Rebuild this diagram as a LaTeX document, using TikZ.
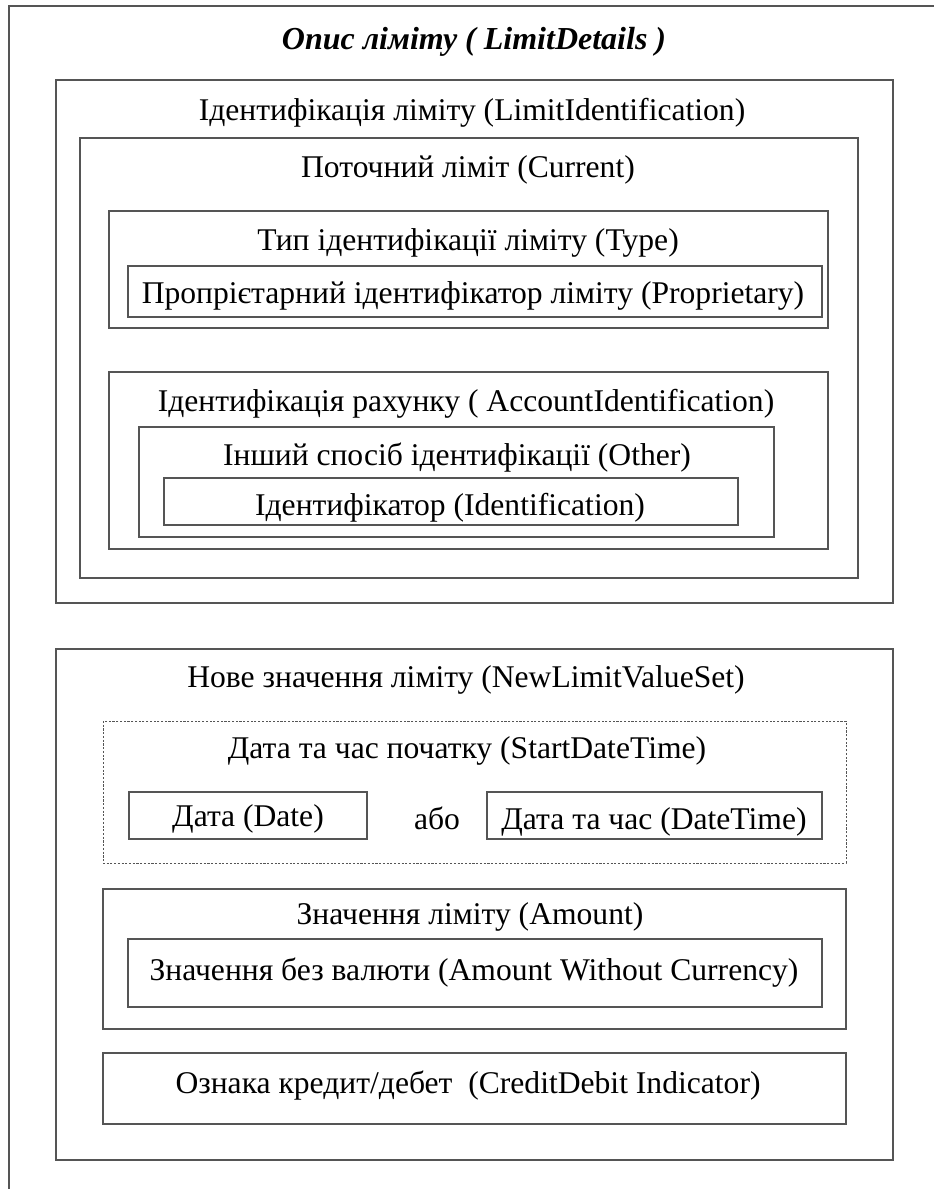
\documentclass[tikz,border=0pt]{standalone}
\usepackage{fontspec}
\setmainfont{Liberation Serif}
\definecolor{framegray}{RGB}{85,85,85}
\tikzset{
    box/.style={draw=framegray, line width=0.9pt},
    optbox/.style={draw=framegray, line width=0.7pt, dash pattern=on 1.6pt off 1.2pt},
    lbl/.style={font=\fontsize{23.7}{27}\selectfont, inner sep=0pt},
}

\begin{document}
\begin{tikzpicture}[x=0.75pt,y=-0.75pt]
    \useasboundingbox (0,0) rectangle (934,1189);
    \begin{scope}
        \clip (0,0) rectangle (934,1189);
        \draw[box] (9,1200) |- (945,6);
    \end{scope}
    \node[lbl, font=\fontsize{24}{28}\selectfont\bfseries\itshape] (title) at (474,42) {Опис ліміту ( LimitDetails )};

    % limit identification
    \draw[box] (56,80) rectangle (893,603);
    \node[lbl] (limid) at (472,113) {Ідентифікація ліміту (LimitIdentification)};
    \draw[box] (80,138) rectangle (858,578);
    \node[lbl] (current) at (468,170) {Поточний ліміт (Current)};
    \draw[box] (109,211) rectangle (828,328);
    \node[lbl] (type) at (468,243) {Тип ідентифікації ліміту (Type)};
    \draw[box] (128,266) rectangle (822,317);
    \node[lbl] (prop) at (473,296) {Пропрієтарний ідентифікатор ліміту (Proprietary)};
    \draw[box] (109,372) rectangle (828,549);
    \node[lbl] (acctid) at (466,404) {Ідентифікація рахунку ( AccountIdentification)};
    \draw[box] (139,427) rectangle (774,537);
    \node[lbl] (other) at (457,458) {Інший спосіб ідентифікації (Other)};
    \draw[box] (164,478) rectangle (738,525);
    \node[lbl] (ident) at (450,508) {Ідентифікатор (Identification)};

    % new limit value set
    \draw[box] (56,649) rectangle (893,1160);
    \node[lbl] (newval) at (466,680) {Нове значення ліміту (NewLimitValueSet)};
    \draw[optbox] (103,721) rectangle (846,863);
    \node[lbl] (start) at (467,751) {Дата та час початку (StartDateTime)};
    \draw[box] (129,792) rectangle (367,839);
    \node[lbl] (date) at (248,819) {Дата (Date)};
    \node[lbl] (or) at (437,818) {або};
    \draw[box] (487,792) rectangle (822,839);
    \node[lbl] (datetime) at (654,822) {Дата та час (DateTime)};
    \draw[box] (103,889) rectangle (846,1029);
    \node[lbl] (amount) at (470,917) {Значення ліміту (Amount)};
    \draw[box] (128,939) rectangle (822,1007);
    \node[lbl] (nocur) at (474,973) {Значення без валюти (Amount Without Currency)};
    \draw[box] (103,1053) rectangle (846,1124);
    \node[lbl] (cdi) at (468,1086) {Ознака кредит/дебет\ \ (CreditDebit Indicator)};
\end{tikzpicture}
\end{document}
